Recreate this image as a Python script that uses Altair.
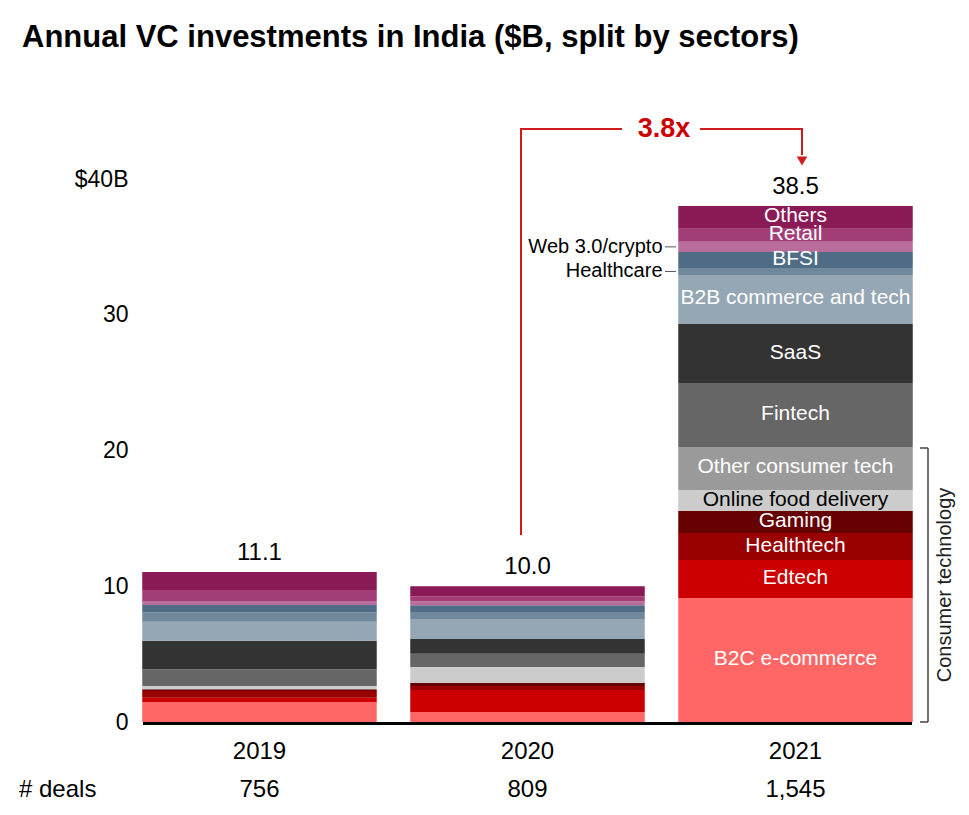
import altair as alt
import pandas as pd

FONT = "Liberation Sans, Arial, sans-serif"

years = ["2019", "2020", "2021"]
deals = ["756", "809", "1,545"]
totals = ["11.1", "10.0", "38.5"]

sectors = [
    "B2C e-commerce", "Edtech", "Healthtech", "Gaming", "Online food delivery",
    "Other consumer tech", "Fintech", "SaaS", "B2B commerce and tech",
    "Healthcare", "BFSI", "Web 3.0/crypto", "Retail", "Others",
]
colors = [
    "#ff6666", "#cc0000", "#990000", "#660000", "#cccccc",
    "#9a9a9a", "#666666", "#333333", "#95a7b5",
    "#6f889c", "#4e6c85", "#b96d9c", "#a33d78", "#8a1a56",
]
v2019 = [1.47, 0.32, 0.49, 0.13, 0.25, 0.00, 1.23, 2.10, 1.40, 0.69, 0.54, 0.30, 0.80, 1.33]
v2020 = [0.74, 1.62, 0.30, 0.24, 1.16, 0.00, 0.96, 1.10, 1.47, 0.52, 0.49, 0.29, 0.37, 0.74]
v2021 = [9.13, 2.80, 1.99, 1.62, 1.55, 3.17, 4.71, 4.35, 3.61, 0.52, 1.18, 0.74, 0.96, 1.69]
# label style for 2021 segments: inside white / inside black / outside
label_kind_2021 = ["in_w", "in_w", "in_w", "in_w", "in_b", "in_w", "in_w", "in_w", "in_w",
                   "out", "in_w", "out", "in_w", "in_w"]

rows = []
for yr, vals in zip(years, [v2019, v2020, v2021]):
    cum = 0.0
    for i, (s, v) in enumerate(zip(sectors, vals)):
        rows.append(dict(year=yr, sector=s, idx=i, value=v, y0=cum, y1=cum + v, mid=cum + v / 2))
        cum += v
df = pd.DataFrame(rows)

tot = pd.DataFrame(dict(year=years, total=[sum(v2019), sum(v2020), sum(v2021)], label=totals, deals=deals))

d21 = df[df.year == "2021"].copy()
d21["kind"] = label_kind_2021
in_w = d21[d21.kind == "in_w"]
in_b = d21[d21.kind == "in_b"]
outl = d21[d21.kind == "out"]

W, H = 785, 543
xs = alt.Scale(domain=years, paddingInner=0.125, paddingOuter=0.027)
ys = alt.Scale(domain=[0, 40], nice=False)
X = alt.X("year:N", scale=xs, axis=None)

bars = alt.Chart(df).mark_bar().encode(
    x=X,
    y=alt.Y("y0:Q", scale=ys, axis=alt.Axis(
        values=[0, 10, 20, 30, 40],
        labelExpr="datum.value == 40 ? '$40B' : datum.label",
        domain=False, ticks=False, grid=False, title=None,
        labelFontSize=23, labelColor="black", labelFont=FONT, labelPadding=7)),
    y2="y1:Q",
    color=alt.Color("sector:N", scale=alt.Scale(domain=sectors, range=colors), legend=None),
)

base_rule = alt.Chart(pd.DataFrame({"a": [0]})).mark_rule(color="black", strokeWidth=3).encode(
    x=alt.value(8), x2=alt.value(777), y=alt.value(H + 1.5))

total_text = alt.Chart(tot).mark_text(fontSize=24, font=FONT, baseline="alphabetic", dy=-12, color="black").encode(
    x=X, y=alt.Y("total:Q", scale=ys), text="label:N")

year_text = alt.Chart(tot).mark_text(fontSize=24, font=FONT, baseline="middle", color="black").encode(
    x=X, y=alt.value(H + 30), text="year:N")
deal_text = alt.Chart(tot).mark_text(fontSize=24, font=FONT, baseline="middle", color="black").encode(
    x=X, y=alt.value(H + 68), text="deals:N")
deal_head = alt.Chart(pd.DataFrame({"t": ["# deals"]})).mark_text(
    fontSize=24, font=FONT, align="left", baseline="middle", color="black").encode(
    x=alt.value(-116), y=alt.value(H + 68), text="t:N")

lab_w = alt.Chart(in_w).mark_text(fontSize=21, font=FONT, color="white", baseline="middle", dy=-1).encode(
    x=X, y=alt.Y("mid:Q", scale=ys), text="sector:N")
lab_b = alt.Chart(in_b).mark_text(fontSize=21, font=FONT, color="black", baseline="middle", dy=-1).encode(
    x=X, y=alt.Y("mid:Q", scale=ys), text="sector:N")
lab_o = alt.Chart(outl).mark_text(fontSize=20, font=FONT, color="black", baseline="middle", align="right", dx=-133).encode(
    x=X, y=alt.Y("mid:Q", scale=ys), text="sector:N")
lead_o = alt.Chart(outl).mark_rule(color="#555555", strokeWidth=1).encode(
    x=alt.value(530), x2=alt.value(541), y=alt.Y("mid:Q", scale=ys))

title = alt.Chart(pd.DataFrame({"t": ["Annual VC investments in India ($B, split by sectors)"]})).mark_text(
    fontSize=31, font=FONT, fontWeight="bold", align="left", baseline="middle", color="black").encode(
    x=alt.value(-113), y=alt.value(-141), text="t:N")

one = pd.DataFrame({"a": [0]})
RED = "#d01c1c"
ann1 = alt.Chart(one).mark_rule(color=RED, strokeWidth=2).encode(x=alt.value(386), y=alt.value(356), y2=alt.value(-50))
ann2 = alt.Chart(one).mark_rule(color=RED, strokeWidth=2).encode(x=alt.value(385), x2=alt.value(487), y=alt.value(-50))
ann3 = alt.Chart(one).mark_rule(color=RED, strokeWidth=2).encode(x=alt.value(565), x2=alt.value(668), y=alt.value(-50))
ann4 = alt.Chart(one).mark_rule(color=RED, strokeWidth=2).encode(x=alt.value(667), y=alt.value(-51), y2=alt.value(-24))
arrow = alt.Chart(one).mark_point(shape="triangle-down", filled=True, color=RED, size=110, opacity=1).encode(
    x=alt.value(667), y=alt.value(-18))
ann_text = alt.Chart(pd.DataFrame({"t": ["3.8x"]})).mark_text(
    fontSize=27, font=FONT, fontWeight="bold", color="#cc0000", baseline="middle").encode(
    x=alt.value(529), y=alt.value(-50), text="t:N")

GR = "#444444"
br1 = alt.Chart(one).mark_rule(color=GR, strokeWidth=1.5).encode(x=alt.value(793), y=alt.value(269), y2=alt.value(H))
br2 = alt.Chart(one).mark_rule(color=GR, strokeWidth=1.5).encode(x=alt.value(785), x2=alt.value(793), y=alt.value(269))
br3 = alt.Chart(one).mark_rule(color=GR, strokeWidth=1.5).encode(x=alt.value(785), x2=alt.value(793), y=alt.value(H))
br_text = alt.Chart(pd.DataFrame({"t": ["Consumer technology"]})).mark_text(
    fontSize=20, font=FONT, angle=270, color="#222222", baseline="middle").encode(
    x=alt.value(810), y=alt.value(406), text="t:N")
faint = alt.Chart(one).mark_rule(color="#c8c8c8", strokeWidth=1).encode(x=alt.value(833), y=alt.value(318), y2=alt.value(483))

chart = alt.layer(
    bars, base_rule, total_text, year_text, deal_text, deal_head,
    lab_w, lab_b, lab_o, lead_o, title,
    ann1, ann2, ann3, ann4, arrow, ann_text,
    br1, br2, br3, br_text, faint,
).properties(
    width=W, height=H,
    autosize=alt.AutoSizeParams(type="none"),
    padding={"left": 127, "top": 171, "right": 41, "bottom": 85},
).configure(
    background="white",
    view=alt.ViewConfig(stroke="transparent", strokeWidth=0),
)

chart.save("out.html", embed_options={"renderer": "svg", "actions": False})
